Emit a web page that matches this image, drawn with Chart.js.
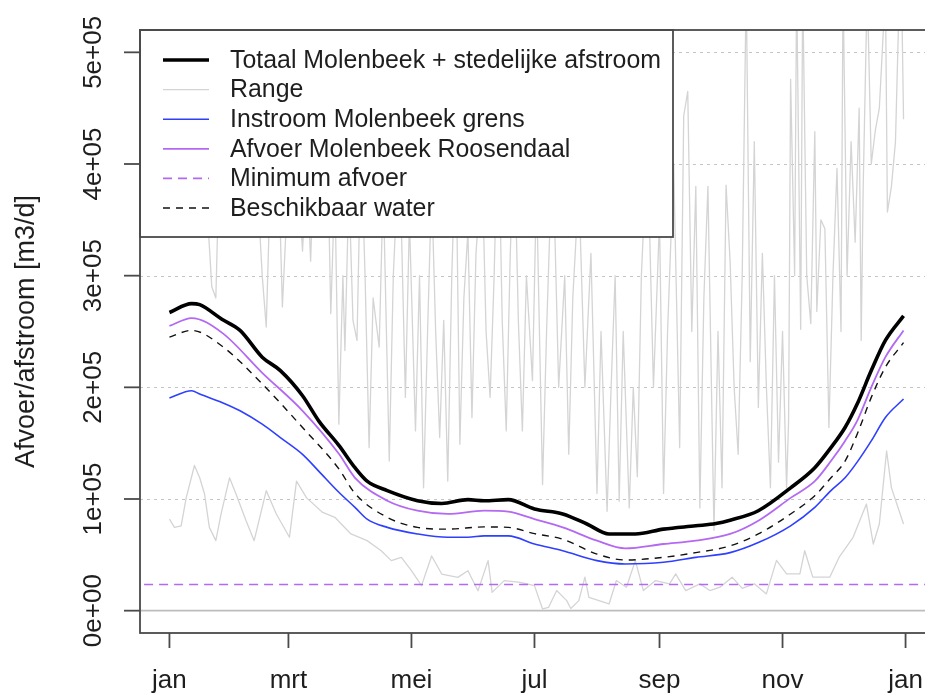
<!DOCTYPE html>
<html>
<head>
<meta charset="utf-8">
<script src="https://cdn.jsdelivr.net/npm/chart.js@4/dist/chart.umd.min.js"></script>
<style>
  html, body { margin: 0; padding: 0; overflow: hidden; background: #fff; }
  canvas { display: block; }
</style>
</head>
<body>
<canvas id="c" width="945" height="697"></canvas>
<script>
// Axis ticks (day of year) and labels
const monthTicks = [0, 59, 120, 181, 243, 304, 365];
const monthLabels = ['jan', 'mrt', 'mei', 'jul', 'sep', 'nov', 'jan'];
const yTicks = [0, 100000, 200000, 300000, 400000, 500000];

// Series, [day of year, discharge in 1000 m3/d]
const totaal = [[0,267],[11,275],[15,274],[26,261],[35,251],[46,227],[55,215],[66,192.5],[74,170],[84,148],[92,128],[98,116],[108,107.5],[123,98.5],[135,96],[148,99.4],[156,98.5],[168,99.4],[181,91],[195,86.6],[207,77.6],[218,68.7],[231,68.7],[245,73],[261,76],[271,78],[278,81],[292,89.5],[308,110],[320,128],[328,146],[335,164],[341,185],[348,215],[355,242],[364,264]];
const afvoer = [[0,255],[11,262],[26,249],[46,213],[66,179],[84,140.5],[92,119],[108,98.5],[123,89.5],[138,86.6],[156,89.5],[168,88.6],[181,82],[195,74.6],[212,62.7],[226,55.8],[245,59.7],[261,62.7],[278,68.7],[292,80.6],[308,101],[320,116],[328,134],[335,152],[341,170],[348,200],[355,227],[364,251]];
const instroom = [[0,190.5],[11,197],[15,194],[26,186.5],[35,179],[46,167],[55,155],[66,140],[74,125],[84,106],[92,92.5],[98,82],[108,74.6],[123,68.7],[138,65.7],[148,65.7],[156,67],[168,67],[181,59.7],[195,53.7],[212,44.8],[226,41.8],[245,43.3],[261,47.7],[278,52],[292,61],[308,76],[320,92.5],[328,107.5],[335,119],[341,133],[348,152],[355,173],[364,189.5]];
const beschikbaar = [[0,245],[11,251],[26,237],[46,203],[66,164],[84,127],[92,105],[108,83.6],[123,74.6],[138,73],[156,75],[168,74.6],[181,69],[195,64],[212,50.7],[226,45.4],[245,47.8],[261,52],[278,58],[292,68.7],[308,86.6],[320,103],[328,119],[335,134],[341,158],[348,191],[355,218],[364,240]];
const minimumAfvoer = 23.5;
const rangeMax = [[0,380],[3,420],[6,360],[9,450],[12,400],[15,560],[18,380],[21,290],[23,280],[25,420],[28,500],[31,390],[34,460],[37,360],[40,480],[43,400],[46,300],[48,254],[50,380],[53,470],[56,272],[58,350],[61,440],[64,380],[66,322],[68,400],[70,313],[72,420],[75,350],[78,450],[80,266],[82,380],[84,167],[86,300],[87,233],[89,380],[91,260],[93,242],[95,420],[97,300],[99,146],[101,280],[104,236],[106,380],[109,134],[111,300],[114,420],[117,191],[119,350],[122,161],[124,300],[126,110],[128,250],[130,380],[132,250],[134,155],[136,260],[138,116],[140,300],[142,420],[144,149],[146,280],[148,340],[150,173],[152,320],[155,400],[157,250],[159,191],[161,300],[163,450],[165,260],[167,161],[169,320],[171,420],[173,260],[175,161],[177,300],[180,206],[182,380],[185,113],[187,250],[190,420],[193,200],[196,300],[198,140],[200,280],[203,380],[206,200],[209,320],[212,105],[214,250],[217,89],[219,200],[221,300],[223,98],[225,250],[228,92],[230,200],[232,120],[234,300],[237,420],[240,200],[243,350],[245,105],[247,250],[250,400],[253,146],[255,443],[257,465],[259,250],[261,380],[263,92],[265,280],[267,380],[270,72],[272,250],[274,110],[276,381],[278,313],[280,200],[282,140],[284,300],[286,560],[288,223],[290,420],[292,182],[294,320],[296,200],[298,110],[300,300],[302,133],[304,250],[306,110],[307,170],[308,476],[310,300],[311,560],[313,252],[314,560],[316,300],[318,257],[320,429],[321,268],[323,350],[325,342],[327,164],[329,300],[331,396],[333,250],[334,560],[336,300],[338,420],[340,330],[342,450],[343,242],[344,380],[346,560],[348,400],[350,430],[352,450],[354,520],[355,560],[356,357],[358,380],[360,420],[362,560],[363,560],[364,440]];
const rangeMin = [[0,82],[2.5,74.6],[5.8,76],[8.3,101],[12.4,130],[15,119],[17.4,104.5],[19.8,74.6],[23,62.7],[25.6,86.6],[29.8,119],[33,104.5],[38,80.6],[42,62.7],[48,107.5],[53,86.6],[59.5,65.7],[63,116],[68,101],[76,88],[82,83.6],[90,68.7],[98,62.7],[105,53.7],[110,44.8],[115,47.7],[120,35.8],[125,22.4],[130,49],[135,32.8],[143,29.8],[148,35.8],[153,17.9],[158,44.8],[160,16.4],[166,26.9],[174,25.4],[181,22.4],[185,1.5],[188,3],[192,18],[197,9],[199,2],[203,9],[206,30],[208,12],[213,9],[218,6],[221.6,27],[226.6,21],[231,44.8],[235,18],[241,27],[248,24],[251,33],[256,18],[263,24],[268,18],[273,21],[279,30],[284,20],[290,24],[296,15],[301,45],[306,33],[312.6,33],[315,53.7],[319,30],[327.4,30],[332,47.7],[339,65.7],[345.6,95.5],[349,59.7],[352,77.6],[355.6,143],[358,110],[364,77.6]];

const legendItems = [
  { label: 'Totaal Molenbeek + stedelijke afstroom', color: '#000000', width: 3.4, dash: [] },
  { label: 'Range', color: '#d4d4d4', width: 1.4, dash: [] },
  { label: 'Instroom Molenbeek grens', color: '#2f3fff', width: 1.6, dash: [] },
  { label: 'Afvoer Molenbeek Roosendaal', color: '#b469f2', width: 1.8, dash: [] },
  { label: 'Minimum afvoer', color: '#b469f2', width: 1.6, dash: [9, 6] },
  { label: 'Beschikbaar water', color: '#111111', width: 1.4, dash: [7, 6] }
];

const toPts = arr => arr.map(([d, v]) => ({ x: d, y: v * 1000 }));
const FONT = '"Liberation Sans", Arial, sans-serif';

function sciLabel(v) {
  if (v === 0) return '0e+00';
  const [m, e] = v.toExponential().split('e');
  const sign = e[0] === '-' ? '-' : '+';
  const ex = e.replace(/[+-]/, '').padStart(2, '0');
  return m + 'e' + sign + ex;
}

const rStyle = {
  id: 'rStyle',
  beforeDatasetsDraw(chart) {
    const { ctx, chartArea: a, scales: { y } } = chart;
    ctx.save();
    ctx.beginPath();
    ctx.rect(a.left, a.top, a.right - a.left, a.bottom - a.top);
    ctx.clip();
    ctx.lineWidth = 1.2;
    ctx.strokeStyle = '#c4c4c4';
    ctx.setLineDash([3, 4]);
    yTicks.filter(v => v > 0).forEach(v => {
      const py = Math.round(y.getPixelForValue(v)) + 0.5;
      ctx.beginPath(); ctx.moveTo(a.left, py); ctx.lineTo(a.right, py); ctx.stroke();
    });
    ctx.setLineDash([]);
    ctx.strokeStyle = '#bdbdbd';
    ctx.lineWidth = 1.6;
    const p0 = y.getPixelForValue(0);
    ctx.beginPath(); ctx.moveTo(a.left, p0); ctx.lineTo(a.right, p0); ctx.stroke();
    ctx.restore();
  },
  afterDraw(chart) {
    const { ctx, chartArea: a, scales: { x, y } } = chart;
    ctx.save();
    // legend box
    const lx0 = a.left, ly0 = a.top, lx1 = 673, ly1 = 237;
    ctx.fillStyle = '#ffffff';
    ctx.fillRect(lx0, ly0, lx1 - lx0, ly1 - ly0);
    ctx.strokeStyle = '#4a4a4a';
    ctx.lineWidth = 1.8;
    ctx.strokeRect(lx0, ly0, lx1 - lx0, ly1 - ly0);
    ctx.font = '24.9px ' + FONT;
    ctx.textBaseline = 'middle';
    ctx.textAlign = 'left';
    legendItems.forEach((it, i) => {
      const ry = 60 + i * 29.6;
      ctx.strokeStyle = it.color;
      ctx.lineWidth = it.width;
      ctx.setLineDash(it.dash);
      ctx.beginPath(); ctx.moveTo(163, ry); ctx.lineTo(209, ry); ctx.stroke();
      ctx.setLineDash([]);
      ctx.fillStyle = '#1e1e1e';
      ctx.fillText(it.label, 230, ry + 1);
    });
    // plot frame
    ctx.strokeStyle = '#4a4a4a';
    ctx.lineWidth = 1.8;
    ctx.strokeRect(a.left, a.top, a.right - a.left, a.bottom - a.top);
    // y axis ticks and rotated labels
    ctx.font = '26px ' + FONT;
    ctx.fillStyle = '#1e1e1e';
    yTicks.forEach(v => {
      const py = y.getPixelForValue(v);
      ctx.beginPath(); ctx.moveTo(a.left, py); ctx.lineTo(a.left - 16, py); ctx.stroke();
      ctx.save();
      ctx.translate(101, py);
      ctx.rotate(-Math.PI / 2);
      ctx.textAlign = 'center';
      ctx.textBaseline = 'alphabetic';
      ctx.fillText(sciLabel(v), 0, 0);
      ctx.restore();
    });
    // x axis ticks and labels
    monthTicks.forEach((d, i) => {
      const px = x.getPixelForValue(d);
      ctx.beginPath(); ctx.moveTo(px, a.bottom); ctx.lineTo(px, a.bottom + 15); ctx.stroke();
      ctx.textAlign = 'center';
      ctx.textBaseline = 'alphabetic';
      ctx.fillText(monthLabels[i], px, 688);
    });
    // y axis title
    ctx.save();
    ctx.font = '27px ' + FONT;
    ctx.translate(34, (a.top + a.bottom) / 2);
    ctx.rotate(-Math.PI / 2);
    ctx.textAlign = 'center';
    ctx.textBaseline = 'alphabetic';
    ctx.fillText('Afvoer/afstroom [m3/d]', 0, 0);
    ctx.restore();
    ctx.restore();
  }
};

const line = (label, data, color, width, dash, order, smooth) => ({
  label, data: toPts(data), borderColor: color, borderWidth: width,
  borderDash: dash, pointRadius: 0, fill: false, order,
  cubicInterpolationMode: smooth ? 'monotone' : 'default', tension: 0,
  borderJoinStyle: 'round', borderCapStyle: 'butt'
});

new Chart(document.getElementById('c'), {
  type: 'line',
  data: {
    datasets: [
      line('Totaal Molenbeek + stedelijke afstroom', totaal, '#000000', 3.6, [], 0, true),
      line('Afvoer Molenbeek Roosendaal', afvoer, '#b469f2', 1.8, [], 1, true),
      line('Beschikbaar water', beschikbaar, '#111111', 1.4, [7, 6], 2, true),
      line('Instroom Molenbeek grens', instroom, '#2f3fff', 1.6, [], 3, true),
      line('Minimum afvoer', [[-20, minimumAfvoer], [390, minimumAfvoer]], '#b469f2', 1.6, [9, 6], 4, false),
      line('Range', rangeMax, '#d4d4d4', 1.3, [], 5, false),
      line('Range', rangeMin, '#d4d4d4', 1.3, [], 6, false)
    ]
  },
  options: {
    responsive: false,
    animation: false,
    devicePixelRatio: 1,
    layout: { padding: { left: 140, right: 10, top: 30, bottom: 64 } },
    scales: {
      x: { type: 'linear', min: -14.6, max: 379.6, display: false },
      y: { type: 'linear', min: -20000, max: 520000, display: false }
    },
    plugins: { legend: { display: false }, tooltip: { enabled: false } }
  },
  plugins: [rStyle]
});
</script>
</body>
</html>
